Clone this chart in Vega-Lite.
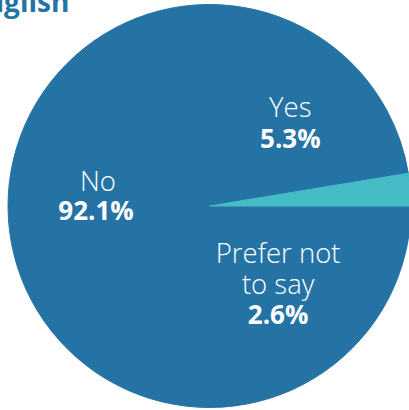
{
  "$schema": "https://vega.github.io/schema/vega-lite/v6.json",
  "width": 419,
  "height": 412,
  "autosize": "none",
  "padding": 0,
  "background": "white",
  "title": {
    "text": "English",
    "orient": "top",
    "anchor": "start",
    "frame": "group",
    "offset": -40,
    "baseline": "alphabetic",
    "dx": -30,
    "font": "Open Sans",
    "fontSize": 28,
    "fontWeight": "bold",
    "color": "#2573a5"
  },
  "data": {
    "values": [
      {"answer": "Yes", "share": 0.053},
      {"answer": "No", "share": 0.921},
      {"answer": "Prefer not to say", "share": 0.026}
    ]
  },
  "encoding": {
    "theta": {
      "field": "share",
      "type": "quantitative",
      "stack": true,
      "scale": {"range": [-4.712389, 1.570796]}
    },
    "order": {"field": "share", "type": "quantitative", "sort": "descending"}
  },
  "layer": [
    {
      "mark": {"type": "arc", "radius": 201.5, "strokeWidth": 1},
      "encoding": {
        "color": {
          "field": "answer",
          "type": "nominal",
          "scale": {
            "domain": ["No", "Yes", "Prefer not to say"],
            "range": ["#2573a5", "#2573a5", "#45bcc5"]
          },
          "legend": null
        },
        "stroke": {
          "field": "answer",
          "type": "nominal",
          "scale": {
            "domain": ["No", "Yes", "Prefer not to say"],
            "range": ["#2573a5", "#2573a5", "#45bcc5"]
          },
          "legend": null
        }
      }
    },
    {
      "mark": {"type": "text", "radius": 115, "dx": -28, "dy": -52, "font": "Open Sans", "fontSize": 27.5, "fontWeight": 300, "color": "white", "baseline": "alphabetic", "align": "center"},
      "encoding": {"text": {"condition": {"test": "datum.answer === 'Yes'", "field": "answer"}, "value": ""}}
    },
    {
      "mark": {"type": "text", "radius": 115, "dx": -28, "dy": -21, "font": "Open Sans", "fontSize": 26, "fontWeight": "bold", "color": "white", "baseline": "alphabetic", "align": "center"},
      "encoding": {"text": {"condition": {"test": "datum.answer === 'Yes'", "field": "share", "type": "quantitative", "format": ".1%"}, "value": ""}}
    },
    {
      "mark": {"type": "text", "radius": 115, "dx": 0, "dy": -43, "font": "Open Sans", "fontSize": 27.5, "fontWeight": 300, "color": "white", "baseline": "alphabetic", "align": "center"},
      "encoding": {"text": {"condition": {"test": "datum.answer === 'No'", "field": "answer"}, "value": ""}}
    },
    {
      "mark": {"type": "text", "radius": 115, "dx": -2, "dy": -14, "font": "Open Sans", "fontSize": 26, "fontWeight": "bold", "color": "white", "baseline": "alphabetic", "align": "center"},
      "encoding": {"text": {"condition": {"test": "datum.answer === 'No'", "field": "share", "type": "quantitative", "format": ".1%"}, "value": ""}}
    },
    {
      "mark": {"type": "text", "radius": 115, "dx": -46, "dy": 66, "lineHeight": 31, "font": "Open Sans", "fontSize": 27.5, "fontWeight": 300, "color": "white", "baseline": "alphabetic", "align": "center"},
      "encoding": {"text": {"condition": {"test": "datum.answer === 'Prefer not to say'", "value": ["Prefer not", "to say"]}, "value": ""}}
    },
    {
      "mark": {"type": "text", "radius": 115, "dx": -46, "dy": 127, "font": "Open Sans", "fontSize": 26, "fontWeight": "bold", "color": "white", "baseline": "alphabetic", "align": "center"},
      "encoding": {"text": {"condition": {"test": "datum.answer === 'Prefer not to say'", "field": "share", "type": "quantitative", "format": ".1%"}, "value": ""}}
    }
  ],
  "config": {"view": {"stroke": null}}
}
